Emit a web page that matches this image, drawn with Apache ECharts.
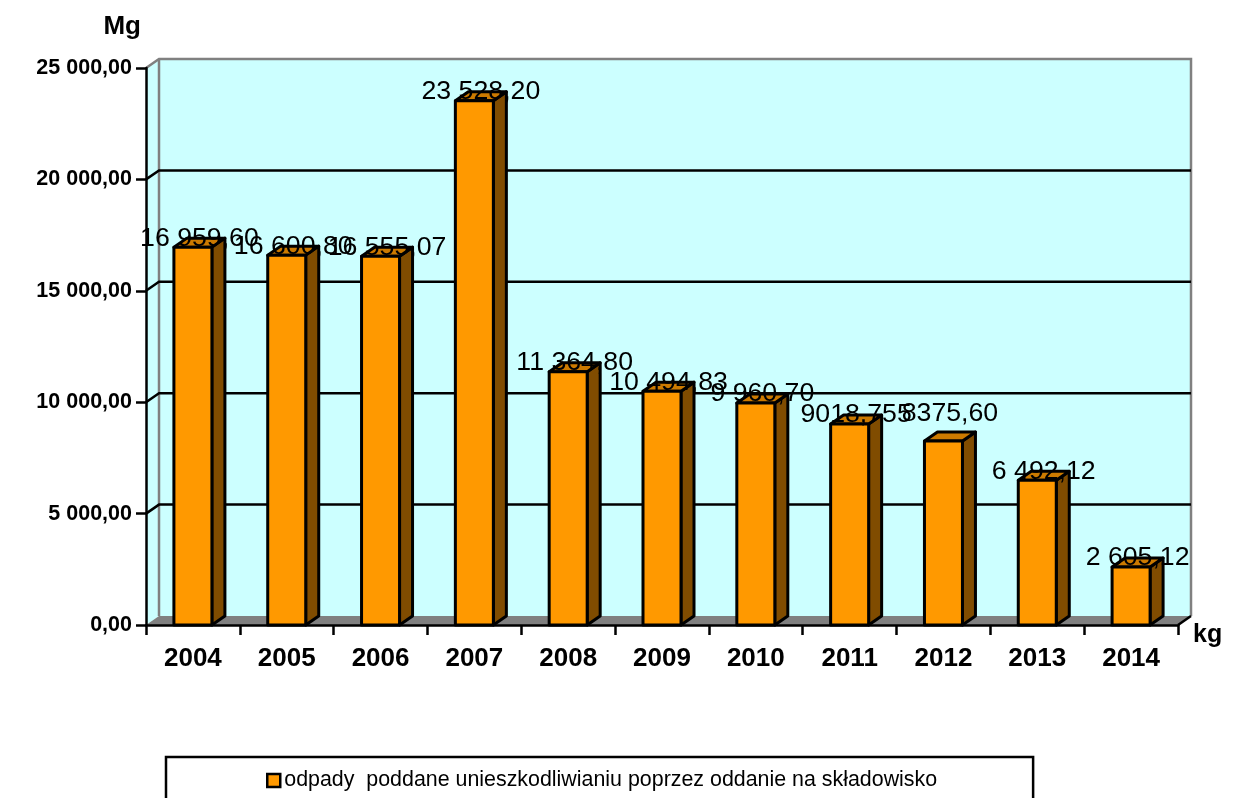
<!DOCTYPE html>
<html><head><meta charset="utf-8">
<style>html,body{margin:0;padding:0;background:#fff;overflow:hidden}#c{width:1235px;height:798px}</style>
<script src="https://cdn.jsdelivr.net/npm/echarts@6/dist/echarts.min.js"></script>
</head><body><div id="c"></div>
<script>
const years = ['2004','2005','2006','2007','2008','2009','2010','2011','2012','2013','2014'];
const values = [16959.60,16600.80,16555.07,23528.20,11364.80,10494.83,9960.70,9018.755,8260,6492.12,2605.12];
const valueLabels = ['16 959,60','16 600,80','16 555,07','23 528,20','11 364,80','10 494,83','9 960,70','9018,755','8375,60','6 492,12','2 605,12'];
const yTicks = [0,5000,10000,15000,20000,25000];
const seriesName = 'odpady  poddane unieszkodliwianiu poprzez oddanie na składowisko';

const FONT = 'Liberation Sans';
const DX = 13, DY = -9, BAR_W = 38;
const extraLift = {'2012': 18};
const ink = {stroke:'#000', lineWidth:3, lineJoin:'round'};

function fmtTick(v){
  const s = Math.round(v).toString().replace(/\B(?=(\d{3})+$)/g,' ');
  return s + ',00';
}

const chart = echarts.init(document.getElementById('c'), null, {renderer:'canvas'});
chart.setOption({
  animation:false,
  backgroundColor:'#fff',
  textStyle:{fontFamily:FONT},
  grid:{left:146,right:57,top:68,bottom:173,containLabel:false},
  xAxis:{type:'category',data:years,z:5,boundaryGap:true,
    name:'kg',nameLocation:'end',nameGap:15,
    nameTextStyle:{fontFamily:FONT,fontWeight:'bold',fontSize:25,color:'#000',verticalAlign:'top',lineHeight:20},
    axisLine:{lineStyle:{color:'#000',width:2.5}},
    axisTick:{show:true,alignWithLabel:false,length:10,lineStyle:{color:'#000',width:2.5}},
    axisLabel:{interval:0,margin:21,color:'#000',fontFamily:FONT,fontWeight:'bold',fontSize:26},
    splitLine:{show:false}},
  yAxis:{type:'value',min:0,max:25000,interval:5000,z:5,
    name:'Mg',nameLocation:'end',nameGap:28,
    nameTextStyle:{fontFamily:FONT,fontWeight:'bold',fontSize:26,color:'#000',align:'right',padding:[0,5,0,0]},
    axisLine:{show:true,lineStyle:{color:'#000',width:2.5}},
    axisTick:{show:true,length:10,lineStyle:{color:'#000',width:2.5}},
    axisLabel:{margin:14,color:'#000',fontFamily:FONT,fontWeight:'bold',fontSize:21.5,formatter:fmtTick},
    splitLine:{show:false}},
  legend:{show:true,left:166,top:757,orient:'horizontal',
    data:[{name:seriesName,icon:'rect',itemStyle:{color:'#FF9900',borderColor:'#000',borderWidth:2.5}}],
    itemWidth:13,itemHeight:13,itemGap:0,
    padding:[13,96,40,100],
    backgroundColor:'#fff',borderColor:'#000',borderWidth:2.5,
    textStyle:{fontFamily:FONT,fontSize:21.4,color:'#000',padding:[0,0,0,-1]},
    selectedMode:false},
  series:[
    {type:'custom',coordinateSystem:'cartesian2d',silent:true,z:1,
     data:[[years[0],0]],
     renderItem(params){
       const c = params.coordSys;
       const L=c.x,R=c.x+c.width,T=c.y,B=c.y+c.height;
       const wall='#CCFFFF',edge='#808080';
       return {type:'group',children:[
         {type:'polygon',shape:{points:[[L,T],[L+DX,T+DY],[L+DX,B+DY],[L,B]]},style:{fill:wall}},
         {type:'rect',shape:{x:L+DX,y:T+DY,width:c.width,height:c.height},style:{fill:wall}},
         {type:'polygon',shape:{points:[[L,B],[L+DX,B+DY],[R+DX,B+DY],[R,B]]},style:{fill:edge}},
         {type:'polyline',shape:{points:[[L,T],[L+DX,T+DY],[R+DX,T+DY],[R+DX,B+DY]]},style:{fill:'none',stroke:edge,lineWidth:2.5}},
         {type:'line',shape:{x1:L+DX,y1:T+DY,x2:L+DX,y2:B+DY},style:{stroke:edge,lineWidth:2.5}},
         {type:'line',shape:{x1:R,y1:B,x2:R+DX,y2:B+DY},style:{stroke:'#000',lineWidth:2.5}}
       ]};
     }},
    {type:'custom',coordinateSystem:'cartesian2d',silent:true,z:2,
     data:yTicks.filter(v=>v>0&&v<25000).map(v=>[years[0],v]),
     renderItem(params,api){
       const c = params.coordSys;
       const y = api.coord([0,api.value(1)])[1];
       return {type:'polyline',shape:{points:[[c.x,y],[c.x+DX,y+DY],[c.x+c.width+DX,y+DY]]},style:{fill:'none',stroke:'#000',lineWidth:2.5}};
     }},
    {type:'custom',name:seriesName,coordinateSystem:'cartesian2d',silent:true,z:3,
     itemStyle:{color:'#FF9900'},
     data:years.map((y,i)=>[y,values[i]]),
     renderItem(params,api){
       const p = api.coord([api.value(0),api.value(1)]);
       const b = api.coord([api.value(0),0]);
       const l=p[0]-BAR_W/2,r=p[0]+BAR_W/2,t=p[1],y0=b[1];
       return {type:'group',children:[
         {type:'polygon',shape:{points:[[r,t],[r+DX,t+DY],[r+DX,y0+DY],[r,y0]]},style:{fill:'#804C00',...ink}},
         {type:'polygon',shape:{points:[[l,t],[l+DX,t+DY],[r+DX,t+DY],[r,t]]},style:{fill:'#CC7A00',...ink}},
         {type:'rect',shape:{x:l,y:t,width:BAR_W,height:y0-t},style:{fill:'#FF9900',...ink}}
       ]};
     }},
    {type:'custom',coordinateSystem:'cartesian2d',silent:true,z:4,
     data:years.map((y,i)=>[y,values[i],valueLabels[i]]),
     renderItem(params,api){
       const cat = years[params.dataIndex];
       const p = api.coord([api.value(0),api.value(1)]);
       return {type:'text',x:p[0]+6.5,y:p[1]-9-(extraLift[cat]||0),
         style:{text:valueLabels[params.dataIndex],fill:'#000',font:'26.7px "'+FONT+'"',align:'center',verticalAlign:'middle'}};
     }}
  ]
});
</script></body></html>
